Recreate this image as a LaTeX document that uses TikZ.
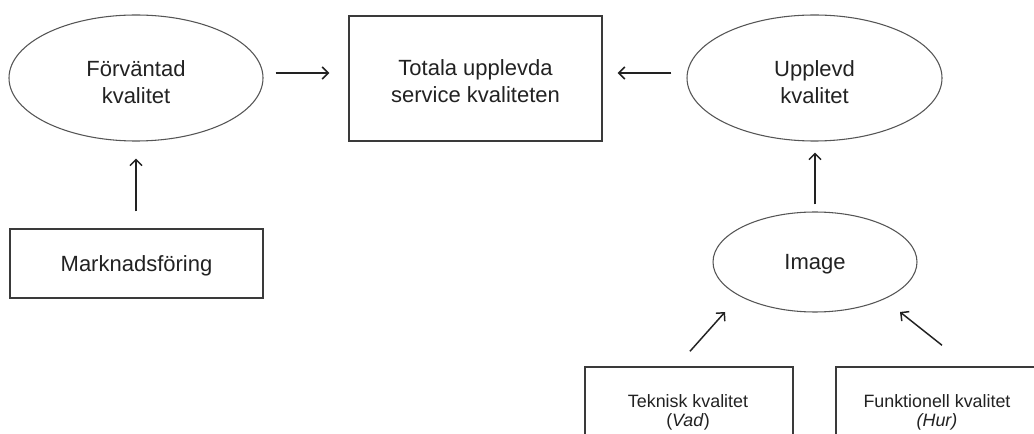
\documentclass[tikz,border=0pt]{standalone}
\usepackage{fontspec}
\setmainfont{Liberation Sans}
\usetikzlibrary{arrows.meta,shapes.geometric}
\definecolor{ink}{HTML}{222222}
\definecolor{edge}{HTML}{555555}
\definecolor{boxedge}{HTML}{3A3A3A}
\tikzset{
  ell/.style={ellipse, draw=edge, line width=0.8pt, inner sep=0pt},
  boxshape/.style={rectangle, draw=boxedge, line width=1.1pt, inner sep=0pt},
  bigtxt/.style={anchor=base, inner sep=0pt, text=ink, font=\fontsize{16.5pt}{20pt}\selectfont},
  smalltxt/.style={anchor=base, inner sep=0pt, text=ink, font=\fontsize{13.4pt}{15pt}\selectfont},
  conn/.style={draw=ink, line width=1.1pt, -{Straight Barb[length=4.5pt,width=9pt,line width=1.1pt]}},
}
\begin{document}
\begin{tikzpicture}[x=0.75pt,y=-0.75pt]
\useasboundingbox (0,0) rectangle (1034,434);
\clip (0,0) rectangle (1034,434);
\fill[white] (0,0) rectangle (1034,434);

% shapes
\node[ell, minimum width=254*0.75pt, minimum height=126*0.75pt] (fk) at (136,78) {};
\node[boxshape, minimum width=253*0.75pt, minimum height=125*0.75pt] (tot) at (475.5,78.5) {};
\node[ell, minimum width=255*0.75pt, minimum height=126*0.75pt] (uk) at (814.5,78) {};
\node[boxshape, minimum width=253*0.75pt, minimum height=69*0.75pt] (mf) at (136.5,263.5) {};
\node[ell, minimum width=204*0.75pt, minimum height=100*0.75pt] (img) at (815,262) {};
\node[boxshape, minimum width=208*0.75pt, minimum height=98*0.75pt] (tek) at (689,416) {};
\node[boxshape, minimum width=202*0.75pt, minimum height=98*0.75pt] (fun) at (937,416) {};

% texts
\node[bigtxt] (fk1) at (136,77) {Förväntad};
\node[bigtxt] (fk2) at (136,104) {kvalitet};
\node[bigtxt] (tot1) at (475.5,76) {Totala upplevda};
\node[bigtxt] (tot2) at (475.5,103) {service kvaliteten};
\node[bigtxt] (uk1) at (814.5,77) {Upplevd};
\node[bigtxt] (uk2) at (814.5,104) {kvalitet};
\node[bigtxt] (mf1) at (136.5,272) {Marknadsföring};
\node[bigtxt] (img1) at (815,270) {Image};
\node[smalltxt] (tek1) at (688,407) {Teknisk kvalitet};
\node[smalltxt] (tek2) at (688,426) {(\textit{Vad})};
\node[smalltxt] (fun1) at (937,407) {Funktionell kvalitet};
\node[smalltxt] (fun2) at (937,426) {\textit{(Hur)}};

% connectors
\draw[conn] ([shift={(12,-5)}]fk.east) -- ([shift={(-19,-5.5)}]tot.west);
\draw[conn] ([shift={(-15,-5)}]uk.west) -- ([shift={(15,-5.5)}]tot.east);
\draw[conn] ([shift={(-0.5,-17)}]mf.north) -- ([shift={(0,17)}]fk.south);
\draw[conn] ([shift={(0,-7)}]img.north) -- ([shift={(0.5,11)}]uk.south);
\draw[conn] ([shift={(1,-15)}]tek.north) -- ([shift={(-90,50)}]img.center);
\draw[conn] ([shift={(5,-21)}]fun.north) -- ([shift={(85,50)}]img.center);
\end{tikzpicture}
\end{document}
